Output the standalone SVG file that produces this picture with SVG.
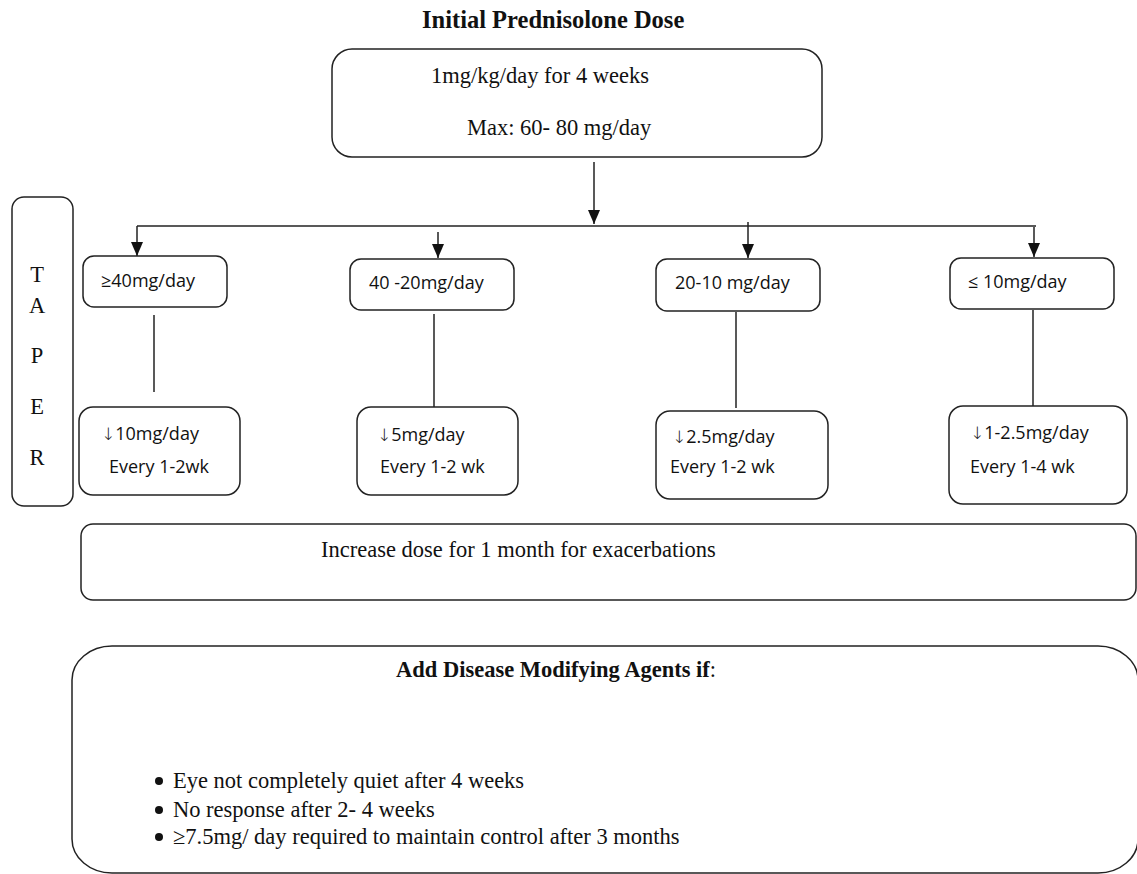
<svg xmlns="http://www.w3.org/2000/svg" width="1137" height="874" viewBox="0 0 1137 874">
<style>
.bx{fill:#fff;stroke:#222;stroke-width:1.5}
.ln{stroke:#222;stroke-width:1.5;fill:none}
.ser{font-family:"Liberation Serif","Times New Roman",serif;font-size:22.5px;fill:#111}
.bold{font-weight:bold}
.san{font-family:"Open Sans","Liberation Sans",sans-serif;font-size:18px;fill:#111}
.arr{font-family:"DejaVu Sans",sans-serif;font-size:17px;font-weight:200}
</style>
<defs>
<marker id="ahd" markerUnits="userSpaceOnUse" markerWidth="14" markerHeight="12" refX="14" refY="6" orient="auto" viewBox="0 0 14 12">
<path d="M0,0 L14,6 L0,12 Z" fill="#111"/>
</marker>
</defs>
<rect width="1137" height="874" fill="#fff"/>
<text class="ser bold" x="422" y="28" style="font-size:24.5px">Initial Prednisolone Dose</text>
<g id="node-initial">
<rect class="bx" x="332" y="49" width="490" height="108" rx="20"/>
<text class="ser" x="431" y="83">1mg/kg/day for 4 weeks</text>
<text class="ser" x="467" y="135">Max: 60- 80 mg/day</text>
</g>
<g id="node-taper">
<rect class="bx" x="12" y="197" width="61" height="309" rx="12"/>
<text class="ser" x="37" y="282" text-anchor="middle">T</text>
<text class="ser" x="37" y="313" text-anchor="middle">A</text>
<text class="ser" x="37" y="363" text-anchor="middle">P</text>
<text class="ser" x="37" y="414" text-anchor="middle">E</text>
<text class="ser" x="37" y="465" text-anchor="middle">R</text>
</g>
<g id="connectors">
<line class="ln" x1="594" y1="162" x2="594" y2="224" marker-end="url(#ahd)"/>
<line class="ln" x1="137" y1="226" x2="1036" y2="226"/>
<line class="ln" x1="137" y1="226" x2="137" y2="256" marker-end="url(#ahd)"/>
<line class="ln" x1="438" y1="232" x2="438" y2="258" marker-end="url(#ahd)"/>
<line class="ln" x1="748" y1="222" x2="748" y2="258" marker-end="url(#ahd)"/>
<line class="ln" x1="1034" y1="227" x2="1034" y2="257" marker-end="url(#ahd)"/>
<line class="ln" x1="154" y1="315" x2="154" y2="392"/>
<line class="ln" x1="434" y1="314" x2="434" y2="408"/>
<line class="ln" x1="736" y1="312" x2="736" y2="408"/>
<line class="ln" x1="1033" y1="310" x2="1033" y2="406"/>
</g>
<g id="node-ge40">
<rect class="bx" x="83" y="256" width="144" height="51" rx="11"/>
<text class="san" x="101" y="287">≥40mg/day</text>
</g>
<g id="node-40-20">
<rect class="bx" x="350" y="259" width="164" height="51" rx="11"/>
<text class="san" x="369" y="289">40 -20mg/day</text>
</g>
<g id="node-20-10">
<rect class="bx" x="656" y="259" width="164" height="52" rx="11"/>
<text class="san" x="675" y="289">20-10 mg/day</text>
</g>
<g id="node-le10">
<rect class="bx" x="950" y="258" width="164" height="51" rx="11"/>
<text class="san" x="968" y="288">≤ 10mg/day</text>
</g>
<g id="node-dec10">
<rect class="bx" x="79" y="407" width="161" height="88" rx="14"/>
<text class="san" x="101" y="440"><tspan class="arr">↓</tspan>10mg/day</text>
<text class="san" x="109" y="473">Every 1-2wk</text>
</g>
<g id="node-dec5">
<rect class="bx" x="357" y="407" width="161" height="88" rx="14"/>
<text class="san" x="377" y="441"><tspan class="arr">↓</tspan>5mg/day</text>
<text class="san" x="380" y="473">Every 1-2 wk</text>
</g>
<g id="node-dec2-5">
<rect class="bx" x="656" y="411" width="172" height="88" rx="14"/>
<text class="san" x="672" y="443"><tspan class="arr">↓</tspan>2.5mg/day</text>
<text class="san" x="670" y="473">Every 1-2 wk</text>
</g>
<g id="node-dec1-2-5">
<rect class="bx" x="949" y="406" width="178" height="98" rx="14"/>
<text class="san" x="970" y="439"><tspan class="arr">↓</tspan>1-2.5mg/day</text>
<text class="san" x="970" y="473">Every 1-4 wk</text>
</g>
<g id="node-increase">
<rect class="bx" x="81" y="524" width="1055" height="76" rx="12"/>
<text class="ser" x="321" y="557">Increase dose for 1 month for exacerbations</text>
</g>
<g id="node-dmards">
<rect class="bx" x="72" y="646" width="1066" height="227" rx="40" ry="34"/>
<text class="ser" x="396" y="677"><tspan class="bold">Add Disease Modifying Agents if</tspan>:</text>
<circle cx="159" cy="781" r="4" fill="#111"/>
<circle cx="159" cy="810" r="4" fill="#111"/>
<circle cx="159" cy="837" r="4" fill="#111"/>
<text class="ser" x="173" y="788">Eye not completely quiet after 4 weeks</text>
<text class="ser" x="173" y="817">No response after 2- 4 weeks</text>
<text class="ser" x="173" y="844">≥7.5mg/ day required to maintain control after 3 months</text>
</g>
</svg>
